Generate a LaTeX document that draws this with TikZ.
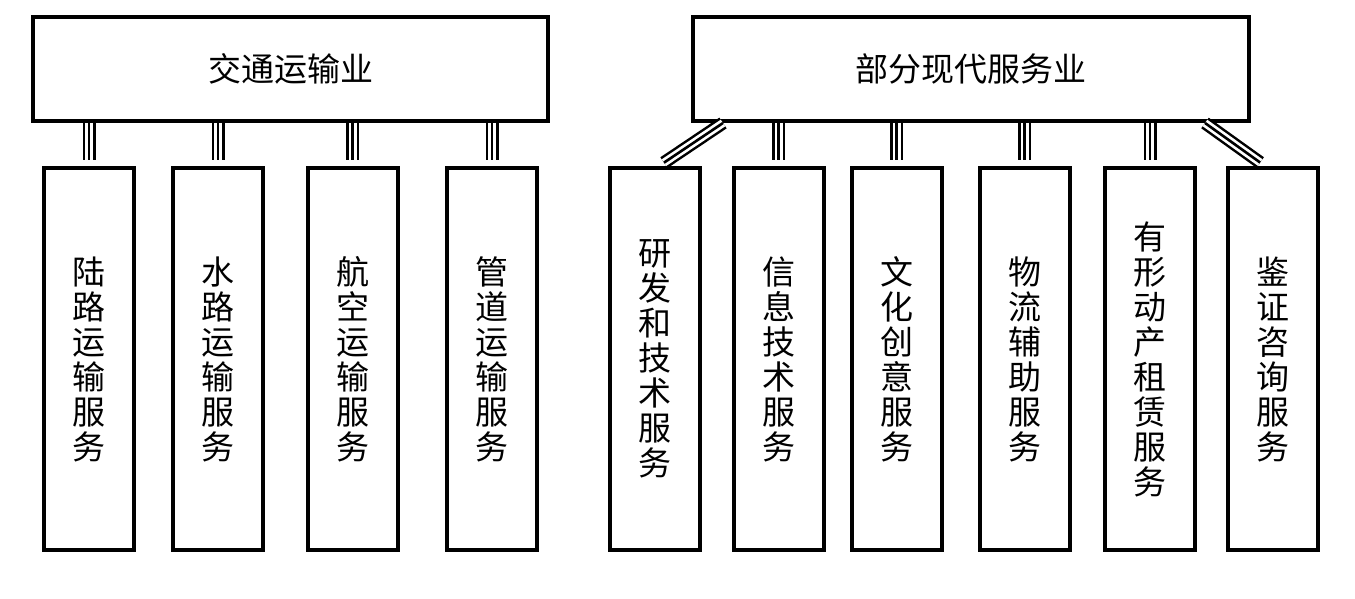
\documentclass[tikz,border=0pt]{standalone}
\usepackage{fontspec}
\setmainfont{Noto Sans CJK SC}
\usetikzlibrary{positioning}

\begin{document}
\begin{tikzpicture}[x=0.5pt, y=-0.5pt, every node/.style={font=\fontsize{16.5pt}{17.5pt}\selectfont},
  top/.style={draw, line width=2pt, minimum height=52pt, inner sep=0pt},
  leaf/.style={draw, line width=2pt, minimum width=45pt, minimum height=191pt, align=center, inner sep=0pt},
  triple/.style={line width=6.5pt, shorten >=3pt,
    postaction={draw=white, line width=4pt, shorten >=3pt},
    postaction={draw=black, line width=1.3pt, shorten >=3pt}}]
  \useasboundingbox (0,0) rectangle (1355,599);
  % parents
  \node[top, minimum width=257.5pt] (trans) at (290.5,69) {交通运输业};
  \node[top, minimum width=278pt] (serv) at (971,69) {部分现代服务业};
  % children of trans
  \node[leaf] (lu) at (89,359) {陆\\路\\运\\输\\服\\务};
  \node[leaf] (shui) at (218,359) {水\\路\\运\\输\\服\\务};
  \node[leaf] (hang) at (352.5,359) {航\\空\\运\\输\\服\\务};
  \node[leaf] (guan) at (492,359) {管\\道\\运\\输\\服\\务};
  % children of serv
  \node[leaf] (yanfa) at (655,359) {研\\发\\和\\技\\术\\服\\务};
  \node[leaf] (xinxi) at (778.5,359) {信\\息\\技\\术\\服\\务};
  \node[leaf] (wenhua) at (896.5,359) {文\\化\\创\\意\\服\\务};
  \node[leaf] (wuliu) at (1024.5,359) {物\\流\\辅\\助\\服\\务};
  \node[leaf] (zulin) at (1150,359) {有\\形\\动\\产\\租\\赁\\服\\务};
  \node[leaf] (jianzheng) at (1273,359) {鉴\\证\\咨\\询\\服\\务};
  % connectors
  \foreach \c in {lu, shui, hang, guan}
    \draw[triple] (trans.south -| \c.north) -- (\c.north);
  \foreach \c in {xinxi, wenhua, wuliu, zulin}
    \draw[triple] (serv.south -| \c.north) -- (\c.north);
  \draw[triple] ([xshift=16pt]serv.south west) -- ([xshift=2pt]yanfa.north);
  \draw[triple] ([xshift=-23pt]serv.south east) -- ([xshift=-4pt]jianzheng.north);
\end{tikzpicture}
\end{document}
